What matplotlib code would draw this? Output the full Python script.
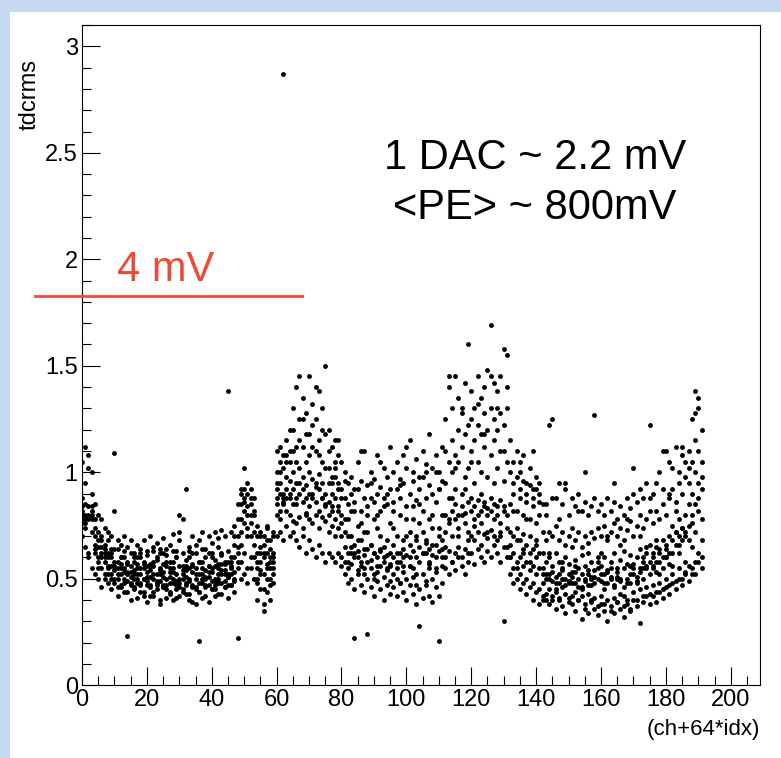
import matplotlib
matplotlib.use("Agg")
from matplotlib import pyplot as plt
from matplotlib.ticker import MultipleLocator, FormatStrFormatter
from matplotlib.lines import Line2D
from matplotlib.patches import Rectangle

plt.rcParams['font.family'] = ['Liberation Sans', 'DejaVu Sans']

channels = list(range(192))

# tdcrms per channel, one list per run
run_a = [0.78, 0.74, 0.80, 0.72, 0.62, 0.58, 0.55, 0.60, 0.52, 0.50, 0.48, 0.55, 0.46, 0.50, 0.44, 0.48,
         0.45, 0.50, 0.47, 0.42, 0.51, 0.46, 0.44, 0.49, 0.40, 0.47, 0.45, 0.43, 0.50, 0.41, 0.46, 0.44,
         0.48, 0.43, 0.39, 0.46, 0.44, 0.50, 0.42, 0.47, 0.45, 0.49, 0.43, 0.48, 0.46, 0.51, 0.47, 0.49,
         0.22, 0.58, 0.62, 0.55, 0.60, 0.50, 0.48, 0.52, 0.45, 0.50, 0.47, 0.55, 0.80, 0.78, 0.85, 0.82,
         0.80, 0.77, 0.76, 0.79, 0.74, 0.81, 0.78, 0.76, 0.80, 0.74, 0.79, 0.77, 0.72, 0.75, 0.70, 0.74,
         0.60, 0.58, 0.55, 0.57, 0.22, 0.54, 0.56, 0.52, 0.24, 0.55, 0.50, 0.53, 0.56, 0.51, 0.54, 0.49,
         0.52, 0.55, 0.48, 0.53, 0.50, 0.56, 0.51, 0.47, 0.28, 0.52, 0.49, 0.55, 0.50, 0.53, 0.21, 0.56,
         0.60, 0.63, 0.58, 0.62, 0.65, 0.60, 0.64, 0.62, 0.70, 0.68, 0.72, 0.66, 0.71, 0.69, 0.73, 0.70,
         0.68, 0.72, 0.30, 0.65, 0.60, 0.55, 0.58, 0.52, 0.56, 0.50, 0.54, 0.48, 0.52, 0.45, 0.42, 0.40,
         0.45, 0.42, 0.44, 0.40, 0.46, 0.43, 0.41, 0.38, 0.44, 0.40, 0.42, 0.36, 0.43, 0.39, 0.41, 0.37,
         0.42, 0.38, 0.40, 0.35, 0.41, 0.39, 0.43, 0.37, 0.40, 0.36, 0.44, 0.40, 0.45, 0.42, 0.46, 0.43,
         0.47, 0.44, 0.48, 0.45, 0.50, 0.47, 0.52, 0.49, 0.55, 0.50, 0.53, 0.56, 0.52, 0.58, 0.62, 0.60]
run_b = [0.82, 0.80, 0.84, 0.78, 0.70, 0.65, 0.62, 0.58, 0.60, 0.56, 0.54, 0.58, 0.52, 0.55, 0.53, 0.51,
         0.54, 0.52, 0.55, 0.50, 0.53, 0.51, 0.56, 0.52, 0.49, 0.53, 0.50, 0.55, 0.48, 0.52, 0.50, 0.54,
         0.51, 0.49, 0.53, 0.50, 0.52, 0.48, 0.54, 0.51, 0.53, 0.50, 0.55, 0.52, 0.54, 0.51, 0.56, 0.53,
         0.70, 0.78, 0.82, 0.80, 0.76, 0.72, 0.62, 0.58, 0.60, 0.55, 0.58, 0.62, 0.92, 0.95, 0.90, 0.98,
         0.96, 1.00, 0.95, 1.02, 0.98, 0.94, 1.00, 0.97, 0.93, 0.99, 0.95, 0.90, 0.86, 0.84, 0.88, 0.82,
         0.80, 0.78, 0.62, 0.65, 0.60, 0.63, 0.58, 0.61, 0.64, 0.59, 0.62, 0.60, 0.63, 0.58, 0.61, 0.57,
         0.60, 0.62, 0.58, 0.64, 0.61, 0.66, 0.63, 0.60, 0.65, 0.62, 0.67, 0.64, 0.61, 0.66, 0.63, 0.68,
         0.80, 0.78, 0.82, 0.85, 0.80, 0.84, 0.81, 0.86, 0.88, 0.84, 0.87, 0.82, 0.86, 0.83, 0.88, 0.85,
         0.84, 0.87, 0.82, 0.80, 0.72, 0.70, 0.74, 0.68, 0.71, 0.66, 0.70, 0.64, 0.68, 0.62, 0.52, 0.50,
         0.52, 0.49, 0.51, 0.48, 0.50, 0.47, 0.49, 0.51, 0.48, 0.50, 0.46, 0.49, 0.47, 0.51, 0.48, 0.50,
         0.49, 0.52, 0.48, 0.50, 0.47, 0.51, 0.49, 0.46, 0.50, 0.48, 0.52, 0.49, 0.53, 0.50, 0.55, 0.52,
         0.56, 0.53, 0.58, 0.55, 0.60, 0.57, 0.62, 0.66, 0.70, 0.68, 0.72, 0.75, 0.80, 0.85, 0.82, 0.78]
run_c = [1.05, 1.12, 1.08, 1.00, 0.85, 0.80, 0.78, 0.74, 0.72, 0.70, 1.09, 0.68, 0.66, 0.70, 0.65, 0.68,
         0.62, 0.66, 0.64, 0.68, 0.63, 0.70, 0.65, 0.67, 0.62, 0.69, 0.64, 0.66, 0.71, 0.63, 0.68, 0.78,
         0.92, 0.65, 0.70, 0.66, 0.68, 0.72, 0.64, 0.70, 0.67, 0.72, 0.69, 0.73, 0.70, 1.38, 0.72, 0.75,
         0.85, 0.90, 1.02, 0.95, 0.92, 0.88, 0.75, 0.72, 0.70, 0.74, 0.68, 0.72, 1.10, 1.12, 2.87, 1.15,
         1.20, 1.30, 1.40, 1.45, 1.35, 1.28, 1.45, 1.32, 1.25, 1.38, 1.30, 1.50, 1.20, 1.12, 1.15, 1.08,
         1.05, 1.00, 0.95, 0.98, 0.92, 1.05, 0.96, 1.10, 0.94, 1.00, 0.97, 1.08, 0.93, 1.02, 0.98, 1.12,
         1.00, 1.05, 0.97, 1.08, 1.02, 1.15, 1.00, 1.06, 0.98, 1.10, 1.04, 1.18, 1.02, 1.08, 1.00, 1.12,
         1.25, 1.40, 1.30, 1.45, 1.35, 1.28, 1.42, 1.60, 1.38, 1.30, 1.45, 1.35, 1.40, 1.48, 1.69, 1.42,
         1.38, 1.45, 1.58, 1.40, 1.15, 1.05, 1.10, 1.00, 1.08, 0.95, 1.02, 0.92, 0.98, 0.90, 0.85, 0.80,
         1.22, 1.25, 0.88, 0.95, 0.85, 0.92, 0.80, 0.88, 0.84, 0.90, 0.82, 0.86, 0.80, 0.84, 1.27, 0.82,
         0.85, 0.80, 0.88, 0.82, 0.86, 0.78, 0.84, 0.80, 0.88, 0.83, 0.90, 0.86, 0.92, 0.88, 0.95, 1.22,
         0.90, 0.95, 1.00, 0.92, 1.10, 1.05, 1.02, 1.12, 1.00, 1.08, 1.05, 1.10, 1.25, 1.38, 1.30, 1.20]
run_d = [0.76, 0.85, 0.78, 0.82, 0.66, 0.60, 0.68, 0.62, 0.56, 0.64, 0.58, 0.52, 0.60, 0.48, 0.57, 0.53,
         0.58, 0.48, 0.60, 0.55, 0.47, 0.57, 0.52, 0.60, 0.54, 0.46, 0.58, 0.51, 0.55, 0.60, 0.48, 0.52,
         0.56, 0.60, 0.47, 0.55, 0.21, 0.58, 0.50, 0.56, 0.60, 0.47, 0.52, 0.57, 0.49, 0.58, 0.52, 0.60,
         0.62, 0.85, 0.88, 0.84, 0.80, 0.82, 0.55, 0.65, 0.52, 0.62, 0.50, 0.60, 0.85, 1.00, 0.88, 1.05,
         0.90, 1.10, 0.88, 1.15, 0.92, 1.05, 0.90, 1.12, 0.95, 1.08, 0.88, 1.02, 0.95, 0.90, 0.98, 0.92,
         0.88, 0.72, 0.78, 0.70, 0.82, 0.68, 0.76, 0.72, 0.80, 0.66, 0.78, 0.74, 0.70, 0.84, 0.68, 0.76,
         0.74, 0.70, 0.80, 0.68, 0.78, 0.72, 0.84, 0.70, 0.76, 0.82, 0.68, 0.78, 0.74, 0.86, 0.70, 0.80,
         0.95, 0.88, 1.00, 0.92, 1.05, 0.90, 0.98, 1.02, 1.10, 0.95, 1.05, 1.00, 1.12, 0.98, 1.08, 1.15,
         1.02, 1.10, 0.96, 1.05, 0.85, 0.90, 0.82, 0.88, 0.80, 0.86, 0.78, 0.84, 0.76, 0.80, 0.62, 0.58,
         0.60, 0.56, 0.62, 0.58, 0.55, 0.60, 0.57, 0.53, 0.59, 0.55, 0.61, 0.56, 0.52, 0.58, 0.54, 0.60,
         0.56, 0.60, 0.53, 0.58, 0.62, 0.55, 0.59, 0.63, 0.57, 0.61, 0.55, 0.60, 0.64, 0.58, 0.62, 0.66,
         0.60, 0.65, 0.62, 0.68, 0.64, 0.70, 0.75, 0.72, 0.78, 0.74, 0.80, 0.85, 0.90, 1.00, 0.95, 1.05]
run_e = [0.70, 0.65, 0.60, 0.55, 0.52, 0.50, 0.46, 0.52, 0.48, 0.45, 0.50, 0.42, 0.47, 0.44, 0.23, 0.40,
         0.46, 0.41, 0.48, 0.44, 0.39, 0.47, 0.42, 0.45, 0.38, 0.46, 0.41, 0.44, 0.40, 0.47, 0.42, 0.45,
         0.43, 0.40, 0.46, 0.38, 0.44, 0.41, 0.47, 0.39, 0.45, 0.42, 0.48, 0.43, 0.46, 0.41, 0.47, 0.44,
         0.55, 0.50, 0.52, 0.48, 0.55, 0.50, 0.40, 0.45, 0.38, 0.44, 0.40, 0.48, 0.70, 0.72, 0.68, 0.75,
         0.70, 0.72, 0.68, 0.65, 0.70, 0.62, 0.68, 0.64, 0.60, 0.66, 0.62, 0.58, 0.62, 0.60, 0.58, 0.62,
         0.56, 0.52, 0.48, 0.50, 0.45, 0.52, 0.47, 0.44, 0.50, 0.46, 0.42, 0.49, 0.45, 0.40, 0.47, 0.43,
         0.46, 0.42, 0.48, 0.44, 0.40, 0.47, 0.43, 0.38, 0.45, 0.41, 0.47, 0.42, 0.39, 0.46, 0.42, 0.48,
         0.55, 0.52, 0.58, 0.54, 0.60, 0.56, 0.52, 0.58, 0.62, 0.57, 0.64, 0.60, 0.58, 0.63, 0.60, 0.66,
         0.62, 0.58, 0.65, 0.60, 0.52, 0.48, 0.50, 0.45, 0.48, 0.43, 0.46, 0.40, 0.44, 0.38, 0.40, 0.43,
         0.38, 0.40, 0.36, 0.41, 0.37, 0.34, 0.39, 0.42, 0.35, 0.40, 0.31, 0.38, 0.34, 0.40, 0.36, 0.33,
         0.38, 0.35, 0.30, 0.37, 0.34, 0.39, 0.36, 0.32, 0.38, 0.35, 0.40, 0.37, 0.29, 0.39, 0.42, 0.38,
         0.42, 0.39, 0.44, 0.41, 0.46, 0.43, 0.48, 0.45, 0.50, 0.47, 0.52, 0.49, 0.55, 0.52, 0.58, 0.55]
run_f = [0.88, 0.95, 1.02, 0.90, 0.78, 0.72, 0.70, 0.66, 0.68, 0.62, 0.82, 0.64, 0.60, 0.63, 0.58, 0.62,
         0.60, 0.57, 0.62, 0.58, 0.61, 0.56, 0.63, 0.59, 0.64, 0.57, 0.61, 0.58, 0.63, 0.60, 0.80, 0.62,
         0.59, 0.63, 0.57, 0.62, 0.58, 0.64, 0.60, 0.56, 0.62, 0.59, 0.65, 0.61, 0.57, 0.63, 0.60, 0.66,
         0.78, 0.92, 0.86, 0.90, 0.85, 0.80, 0.70, 0.62, 0.66, 0.68, 0.64, 0.70, 1.00, 1.05, 1.02, 1.08,
         1.10, 1.20, 1.05, 1.25, 1.12, 1.18, 1.08, 1.22, 1.10, 1.15, 1.05, 1.18, 1.02, 0.98, 1.05, 0.95,
         0.92, 0.88, 0.85, 0.90, 0.86, 0.92, 0.82, 0.88, 0.84, 0.95, 0.86, 0.90, 0.82, 0.88, 0.85, 0.92,
         0.86, 0.92, 0.88, 0.95, 0.84, 0.90, 0.96, 0.87, 0.92, 0.98, 0.88, 0.94, 0.90, 1.00, 0.92, 0.96,
         1.10, 1.05, 1.15, 1.08, 1.20, 1.12, 1.18, 1.22, 1.25, 1.15, 1.22, 1.18, 1.28, 1.20, 1.30, 1.25,
         1.20, 1.28, 1.22, 1.30, 1.00, 0.95, 0.98, 0.92, 0.96, 0.90, 0.94, 0.88, 0.92, 0.86, 0.72, 0.68,
         0.72, 0.70, 0.75, 0.68, 0.72, 0.66, 0.70, 0.74, 0.68, 0.72, 0.65, 0.70, 0.67, 0.72, 0.69, 0.74,
         0.70, 0.75, 0.68, 0.72, 0.76, 0.70, 0.74, 0.68, 0.73, 0.77, 0.70, 0.75, 0.80, 0.74, 0.78, 0.82,
         0.76, 0.82, 0.78, 0.85, 0.80, 0.88, 0.92, 0.86, 0.95, 0.90, 0.98, 1.02, 1.05, 1.15, 1.10, 0.98]
run_g = [0.80, 0.76, 0.79, 0.84, 0.64, 0.68, 0.60, 0.64, 0.55, 0.60, 0.56, 0.50, 0.57, 0.53, 0.49, 0.56,
         0.50, 0.55, 0.52, 0.57, 0.49, 0.54, 0.50, 0.47, 0.55, 0.51, 0.56, 0.48, 0.53, 0.49, 0.56, 0.50,
         0.54, 0.50, 0.56, 0.52, 0.48, 0.55, 0.51, 0.53, 0.49, 0.56, 0.50, 0.54, 0.58, 0.52, 0.55, 0.50,
         0.65, 0.72, 0.76, 0.74, 0.70, 0.66, 0.58, 0.54, 0.62, 0.57, 0.55, 0.58, 0.88, 0.90, 0.86, 0.92,
         0.88, 0.92, 0.85, 0.90, 0.86, 0.88, 0.84, 0.90, 0.86, 0.82, 0.88, 0.84, 0.80, 0.82, 0.78, 0.84,
         0.76, 0.65, 0.70, 0.62, 0.66, 0.60, 0.68, 0.64, 0.58, 0.66, 0.62, 0.56, 0.64, 0.60, 0.55, 0.62,
         0.66, 0.58, 0.62, 0.56, 0.70, 0.60, 0.55, 0.68, 0.58, 0.72, 0.62, 0.57, 0.66, 0.60, 0.74, 0.64,
         0.72, 0.76, 0.70, 0.78, 0.74, 0.80, 0.76, 0.72, 0.82, 0.78, 0.80, 0.76, 0.84, 0.80, 0.82, 0.78,
         0.80, 0.76, 0.84, 0.74, 0.66, 0.62, 0.68, 0.60, 0.64, 0.58, 0.62, 0.56, 0.60, 0.55, 0.48, 0.52,
         0.50, 0.53, 0.48, 0.52, 0.54, 0.50, 0.52, 0.48, 0.53, 0.46, 0.52, 0.50, 0.54, 0.47, 0.51, 0.55,
         0.52, 0.48, 0.54, 0.51, 0.46, 0.53, 0.50, 0.55, 0.48, 0.52, 0.57, 0.51, 0.55, 0.60, 0.56, 0.58,
         0.62, 0.58, 0.64, 0.60, 0.66, 0.62, 0.68, 0.72, 0.66, 0.74, 0.70, 0.68, 0.76, 0.72, 0.88, 0.92]
run_h = [0.84, 0.78, 0.62, 0.80, 0.74, 0.55, 0.65, 0.50, 0.62, 0.52, 0.64, 0.46, 0.55, 0.60, 0.52, 0.47,
         0.52, 0.60, 0.44, 0.50, 0.56, 0.42, 0.58, 0.48, 0.52, 0.62, 0.47, 0.53, 0.58, 0.45, 0.72, 0.56,
         0.47, 0.55, 0.62, 0.45, 0.58, 0.52, 0.46, 0.62, 0.55, 0.45, 0.57, 0.62, 0.52, 0.47, 0.58, 0.70,
         0.58, 0.66, 0.92, 0.70, 0.88, 0.60, 0.50, 0.70, 0.35, 0.75, 0.60, 0.52, 0.95, 0.82, 1.08, 0.88,
         1.05, 0.85, 1.12, 0.95, 1.25, 0.80, 1.18, 0.88, 1.40, 0.92, 1.20, 0.85, 1.10, 0.95, 1.02, 1.15,
         0.70, 0.96, 0.58, 0.82, 0.62, 0.75, 1.10, 0.55, 0.72, 0.88, 0.52, 0.80, 1.05, 0.65, 0.90, 0.56,
         0.82, 0.50, 0.94, 0.60, 1.12, 0.56, 0.78, 0.52, 0.85, 0.62, 1.00, 0.58, 0.80, 0.55, 0.92, 0.60,
         0.65, 1.45, 0.88, 1.02, 0.70, 1.30, 0.92, 0.68, 1.05, 0.75, 1.32, 0.90, 1.18, 0.72, 1.45, 0.95,
         1.30, 0.70, 1.10, 1.55, 0.60, 0.82, 0.55, 1.05, 0.62, 0.78, 0.58, 1.10, 0.66, 0.95, 0.55, 0.85,
         0.62, 0.88, 0.45, 0.78, 0.58, 0.95, 0.48, 0.65, 0.56, 0.82, 0.45, 1.00, 0.62, 0.50, 0.88, 0.58,
         0.62, 0.45, 0.70, 0.55, 0.95, 0.50, 0.66, 0.42, 0.78, 0.56, 1.02, 0.48, 0.70, 0.55, 0.65, 0.88,
         0.55, 0.68, 0.52, 1.10, 0.60, 0.90, 0.56, 0.82, 0.62, 1.12, 0.58, 0.95, 0.65, 1.28, 1.35, 0.68]
runs = [run_a, run_b, run_c, run_d, run_e, run_f, run_g, run_h]

fig = plt.figure(figsize=(7.81, 7.58), dpi=100)
ax = fig.add_axes([0.105, 0.096, 0.868, 0.871])

for r in runs:
    ax.plot(channels, r, 'o', ms=3.5, color='black', mec='none')

ax.set_xlim(0, 209)
ax.set_ylim(0, 3.1)
ax.xaxis.set_major_locator(MultipleLocator(20))
ax.xaxis.set_minor_locator(MultipleLocator(5))
ax.yaxis.set_major_locator(MultipleLocator(0.5))
ax.yaxis.set_minor_locator(MultipleLocator(0.1))
ax.yaxis.set_major_formatter(FormatStrFormatter('%g'))
ax.tick_params(which='both', direction='in', top=False, right=False, labelsize=17)
ax.tick_params(which='major', length=13, width=0.8)
ax.tick_params(which='minor', length=6.5, width=0.8)
ax.tick_params(axis='x', pad=3)
ax.tick_params(axis='y', pad=3)

fig.text(30/781, 1-95/758, "tdcrms", rotation=90, fontsize=17, ha='center', va='center')
fig.text(760/781, 1-730/758, "(ch+64*idx)", fontsize=16, ha='right', va='center')

fig.text(535/781, 1-158/758, "1 DAC ~ 2.2 mV", fontsize=30, ha='center', va='center')
fig.text(535/781, 1-208/758, "<PE> ~ 800mV", fontsize=30, ha='center', va='center')

red = '#f04a35'
fig.add_artist(Line2D([35/781, 302/781], [1-296/758, 1-296/758], color=red, lw=2))
fig.text(117/781, 1-270/758, "4 mV", fontsize=30, color=red, ha='left', va='center')

# light blue frame of the slide
blue = '#c6d9f1'
fig.add_artist(Rectangle((0, 1-12/758), 1, 12/758, transform=fig.transFigure, color=blue, lw=0))
fig.add_artist(Rectangle((0, 0), 10/781, 1, transform=fig.transFigure, color=blue, lw=0))

fig.savefig("out.png", dpi=100)
